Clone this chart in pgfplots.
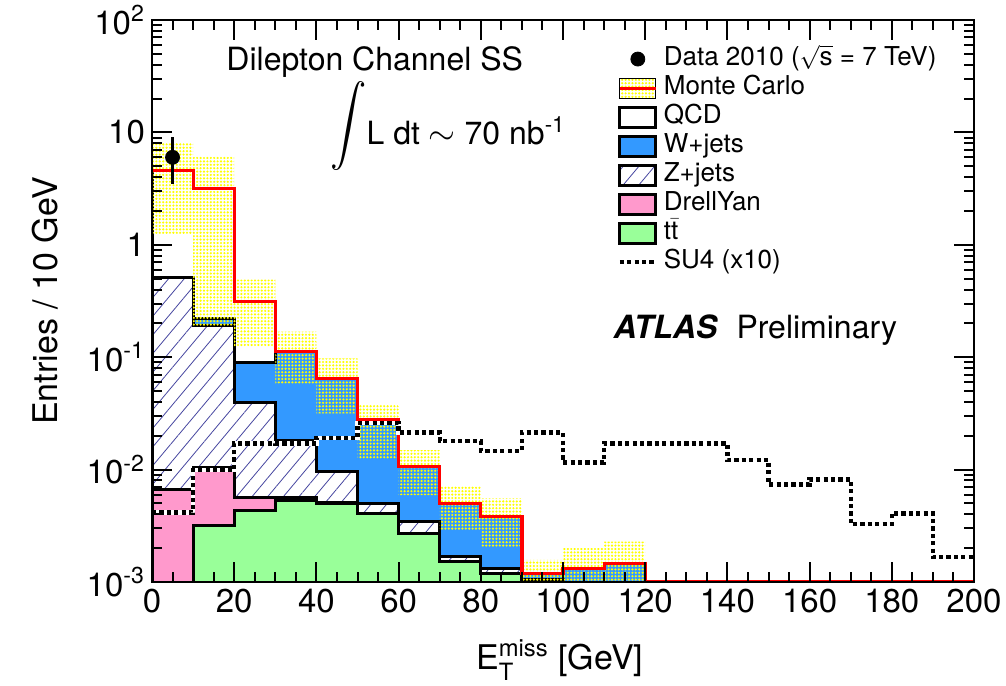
\documentclass[border=0pt]{standalone}
\usepackage{fontspec}
\setmainfont{TeX Gyre Heros}
\usepackage{amsmath}
\usepackage{graphicx}
\usepackage{pgfplots}
\pgfplotsset{compat=1.18}
\usepackage{pgfplotstable}
\usetikzlibrary{patterns,patterns.meta}

\definecolor{wblue}{RGB}{51,153,255}
\definecolor{dypink}{RGB}{255,153,204}
\definecolor{ttgreen}{RGB}{153,255,153}
\definecolor{hatchc}{RGB}{70,70,160}
\tikzset{mcband/.style={pattern={Dots[distance=1.7pt,radius=0.6pt]}, pattern color=yellow}}

% cumulative stack values per 10 GeV bin (left edge), last row repeats for the step end
\pgfplotstableread{
x   tt      dy      z        w        tot      red      su4
0   1e-5    0.0067  0.507    0.507    4.55     4.55     0.00414
10  0.00321 0.01054 0.193    0.222    3.15     3.15     0.0099
20  0.00437 0.0056  0.0394   0.0901   0.311    0.311    0.01714
30  0.00529 0.0056  0.0183   0.112    0.112    0.112    0.0171
40  0.0050  0.0051  0.00957  0.0649   0.0649   0.0649   0.0190
50  0.00408 0.00408 0.0050   0.0276   0.0276   0.0276   0.0261
60  0.00271 0.00271 0.00344  0.0106   0.0106   0.0106   0.0213
70  0.00152 0.00152 0.00168  0.0050   0.0050   0.0050   0.01796
80  0.00119 0.00119 0.001324 0.00381  0.00381  0.00381  0.01473
90  0.0008  0.0008  0.00105  0.00119  0.00119  0.00119  0.0213
100 0.0007  0.0007  0.0009   0.001315 0.001315 0.001315 0.01153
110 0.0007  0.0007  0.0009   0.001466 0.001466 0.001466 0.01714
120 1e-5    1e-5    1e-5     1e-5     1e-5     0.001    0.0171
130 1e-5    1e-5    1e-5     1e-5     1e-5     0.001    0.0171
140 1e-5    1e-5    1e-5     1e-5     1e-5     0.001    0.01217
150 1e-5    1e-5    1e-5     1e-5     1e-5     0.001    0.0074
160 1e-5    1e-5    1e-5     1e-5     1e-5     0.001    0.00818
170 1e-5    1e-5    1e-5     1e-5     1e-5     0.001    0.00328
180 1e-5    1e-5    1e-5     1e-5     1e-5     0.001    0.00408
190 1e-5    1e-5    1e-5     1e-5     1e-5     0.001    0.00166
200 1e-5    1e-5    1e-5     1e-5     1e-5     0.001    0.00166
}\stack

\begin{document}
\begin{tikzpicture}
\useasboundingbox (0,0) rectangle (503pt,342.5pt);
\begin{axis}[
  at={(76pt,51.5pt)}, anchor=south west,
  scale only axis, width=411pt, height=281pt,
  xmin=0, xmax=200, ymode=log, ymin=1e-3, ymax=100,
  axis on top,
  xtick={0,20,...,200}, minor x tick num=3,
  ytick={1e-3,1e-2,1e-1,1,10,100},
  yticklabels={10$^{\text{-3}}$,10$^{\text{-2}}$,10$^{\text{-1}}$,1,10,10$^{\text{2}}$},
  tick align=inside,
  major tick length=10pt, minor tick length=5pt,
  every tick/.style={black, line width=1pt},
  axis line style={line width=1.3pt},
  /pgf/number format/assume math mode=true,
  tick label style={font=\fontsize{16.5}{18}\selectfont},
  label style={font=\fontsize{17}{20}\selectfont},
  xlabel={E$_{\text{T}}^{\text{miss}}$ [GeV]},
  ylabel={Entries / 10 GeV},
  xlabel style={at={(axis description cs:0.496,-0.139)}, anchor=center},
  ylabel style={at={(axis description cs:-0.13,0.5)}, anchor=center},
  legend style={at={(0.566,0.957)}, anchor=north west, draw=none, fill=none,
    font=\fontsize{13}{15}\selectfont, row sep=0pt, inner sep=0pt,
    nodes={inner sep=0.9pt, text height=9.6pt, text depth=3.1pt},
    /tikz/every odd column/.append style={column sep=2pt}},
  legend cell align=left,
]
% stack, drawn from the top down
\addplot[forget plot, const plot mark left, fill=white, draw=black, line width=1.5pt]
  table[x=x,y=tot]{\stack} |- (axis cs:0,1e-5) -- cycle;
\addplot[forget plot, const plot mark left, fill=wblue, draw=black, line width=1.5pt]
  table[x=x,y=w]{\stack} |- (axis cs:0,1e-5) -- cycle;
\addplot[forget plot, const plot mark left, fill=white, draw=black, line width=1.5pt,
  postaction={pattern={Lines[angle=50,distance=6pt,line width=0.4pt]}, pattern color=hatchc}]
  table[x=x,y=z]{\stack} |- (axis cs:0,1e-5) -- cycle;
\addplot[forget plot, const plot mark left, fill=dypink, draw=black, line width=1.5pt]
  table[x=x,y=dy]{\stack} |- (axis cs:0,1e-5) -- cycle;
\addplot[forget plot, const plot mark left, fill=ttgreen, draw=black, line width=1.5pt]
  table[x=x,y=tt]{\stack} |- (axis cs:0,1e-5) -- cycle;
% MC uncertainty band
\addplot[forget plot, draw=none, mcband] coordinates {
 (0,8.07) (10,8.07) (10,6.05) (20,6.05) (20,0.489) (30,0.489) (30,0.1686) (40,0.1686)
 (40,0.0977) (50,0.0977) (50,0.0376) (60,0.0376) (60,0.0149) (70,0.0149)
 (70,0.00714) (80,0.00714) (80,0.00555) (90,0.00555) (90,0.00157) (100,0.00157)
 (100,0.0020) (110,0.0020) (110,0.00229) (120,0.00229)
 (120,1e-4) (90,1e-4) (90,0.00206) (80,0.00206) (80,0.0029) (70,0.0029)
 (70,0.00594) (60,0.00594) (60,0.0126) (50,0.0126) (50,0.0317) (40,0.0317)
 (40,0.0586) (30,0.0586) (30,0.124) (20,0.124) (20,0.19) (10,0.19) (10,1.23) (0,1.23)
} -- cycle;
% total MC
\addplot[forget plot, const plot mark left, red, line width=1.6pt] table[x=x,y=red]{\stack};
% SU4 x10
\addplot[forget plot, const plot mark left, white, line width=2.2pt] table[x=x,y=su4]{\stack};
\addplot[forget plot, const plot mark left, black, line width=2.2pt, dash pattern=on 2.1pt off 1.6pt] table[x=x,y=su4]{\stack};
% data
\addplot[forget plot, only marks, mark=*, mark size=3.5pt, black,
  error bars/.cd, y dir=both, y explicit, error mark=none,
  error bar style={line width=1.5pt}]
  coordinates {(5,6) += (0,3.04) -= (0,2.53)};

% legend
\addlegendimage{legend image code/.code={\fill[black] (9pt,0pt) circle (3.5pt);}}
\addlegendentry{Data 2010 ($\sqrt{\text{s}}$ = 7 TeV)}
\addlegendimage{legend image code/.code={\fill[mcband] (0pt,-5pt) rectangle (18pt,5pt); \draw[red,line width=1.5pt] (0pt,0pt)--(18pt,0pt);}}
\addlegendentry{Monte Carlo}
\addlegendimage{legend image code/.code={\draw[black,line width=1.5pt,fill=white] (0pt,-5pt) rectangle (18pt,5pt);}}
\addlegendentry{QCD}
\addlegendimage{legend image code/.code={\draw[black,line width=1.5pt,fill=wblue] (0pt,-5pt) rectangle (18pt,5pt);}}
\addlegendentry{W+jets}
\addlegendimage{legend image code/.code={\draw[black,line width=1.5pt,fill=white,postaction={pattern={Lines[angle=50,distance=6pt,line width=0.4pt]}, pattern color=hatchc}] (0pt,-5pt) rectangle (18pt,5pt);}}
\addlegendentry{Z+jets}
\addlegendimage{legend image code/.code={\draw[black,line width=1.5pt,fill=dypink] (0pt,-5pt) rectangle (18pt,5pt);}}
\addlegendentry{DrellYan}
\addlegendimage{legend image code/.code={\draw[black,line width=1.5pt,fill=ttgreen] (0pt,-5pt) rectangle (18pt,5pt);}}
\addlegendentry{t\smash{$\bar{\text{t}}$}}
\addlegendimage{legend image code/.code={\draw[black,line width=2.2pt,dash pattern=on 2.1pt off 1.6pt] (0pt,0pt)--(18pt,0pt);}}
\addlegendentry{SU4 (x10)}

% texts
\node[anchor=center, font=\fontsize{16}{19}\selectfont] at (rel axis cs:0.271,0.925) {Dilepton Channel SS};
\node[anchor=west, font=\fontsize{16}{19}\selectfont, inner sep=0pt] at (rel axis cs:0.2165,0.8025) {\smash{\raisebox{4.5pt}{\scalebox{1.05}[1.16]{$\displaystyle\int$}}}L dt $\sim$ 70 nb$^{\text{-1}}$};
\node[anchor=west, font=\fontsize{16}{19}\selectfont, inner sep=0pt] at (rel axis cs:0.561,0.448) {{\bfseries\itshape ATLAS}\hspace{0.6em}Preliminary};
\end{axis}
\end{tikzpicture}
\end{document}
